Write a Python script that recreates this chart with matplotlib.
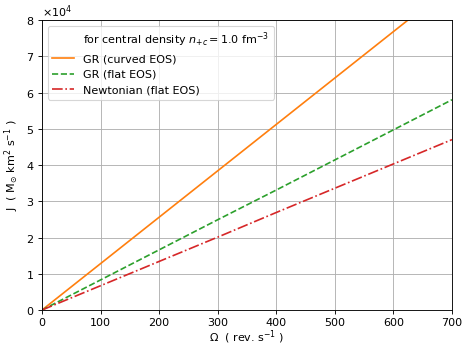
import numpy as np
import matplotlib
matplotlib.use('Agg')
import matplotlib.pyplot as plt

# Angular velocity (rev/s)
omega = [0, 100, 200, 300, 400, 500, 600, 700]

# Angular momentum J (M_sun km^2 s^-1)
j_gr_curved = [0, 12800, 25600, 38400, 51200, 64000, 76800, 89600]
j_gr_flat = [0, 8300, 16600, 24900, 33100, 41400, 49700, 58000]
j_newton_flat = [0, 6700, 13400, 20100, 26900, 33600, 40300, 47000]

dpi = 80
fig = plt.figure(figsize = (464 / dpi, 346 / dpi), dpi = dpi)
ax = fig.add_axes([42 / 464, 1 - 310 / 346, 410 / 464, 290 / 346])

ax.plot([], [], ' ', label = r'for central density $n_{+c} = 1.0$ fm$^{-3}$')
ax.plot(omega, j_gr_curved, color = 'tab:orange', label = 'GR (curved EOS)')
ax.plot(omega, j_gr_flat, '--', color = 'tab:green', label = 'GR (flat EOS)')
ax.plot(omega, j_newton_flat, '-.', color = 'tab:red', label = 'Newtonian (flat EOS)')

ax.set_xlim(0, 700)
ax.set_ylim(0, 80000)
ax.ticklabel_format(axis = 'y', style = 'sci', scilimits = (0, 0), useMathText = True)
ax.grid()
ax.set_xlabel(r'$\Omega$  ( rev. s$^{-1}$ )', labelpad = 1)
ax.set_ylabel(r'J  ( M$_{\odot}$ km$^2$ s$^{-1}$ )')
ax.legend(loc = 'upper left')

fig.savefig('out.png', dpi = dpi)
